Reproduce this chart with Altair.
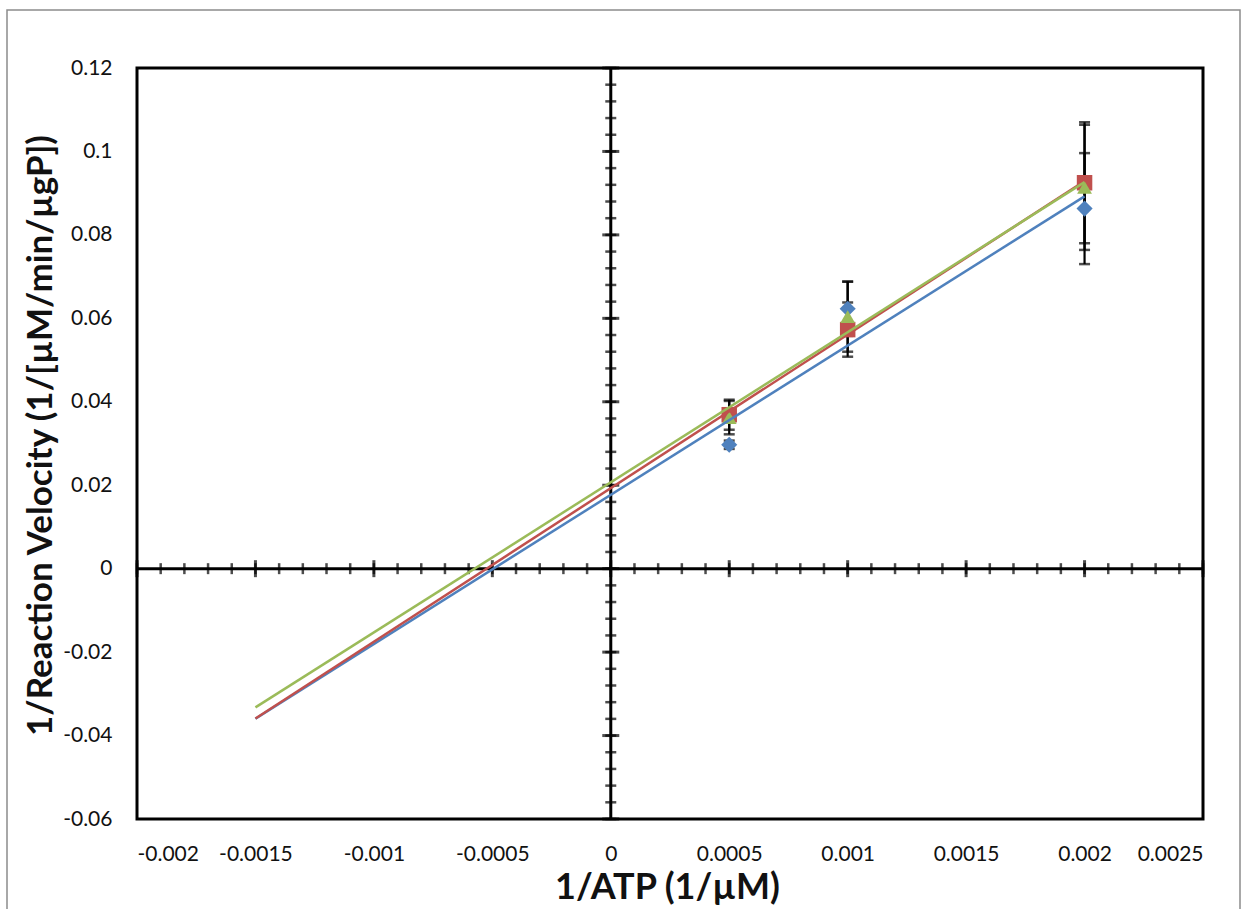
import altair as alt
import pandas as pd

# ---- data ----
inv_atp = [0.0005, 0.001, 0.002]
series_names = ["Series A", "Series B", "Series C"]
blue_y = [0.0297, 0.0623, 0.0863]
blue_err = [0.0010, 0.0065, 0.0133]
red_y = [0.0369, 0.0573, 0.0925]
red_err = [0.0036, 0.0065, 0.0145]
green_y = [0.0362, 0.0604, 0.0914]
green_err = [0.0040, 0.0084, 0.0150]
colors = ["#4F81BD", "#C0504D", "#9BBB59"]
shapes = ["diamond", "square", "triangle-up"]
marker_sizes = [260, 220, 240]

x_labels = [-0.002, -0.0015, -0.001, -0.0005, 0, 0.0005, 0.001, 0.0015, 0.002, 0.0025]
y_labels = [-0.06, -0.04, -0.02, 0, 0.02, 0.04, 0.06, 0.08, 0.1, 0.12]
trend_extent = [-0.0015, 0.002]

rows = []
for name, ys, es in zip(series_names, [blue_y, red_y, green_y], [blue_err, red_err, green_err]):
    for x, y, e in zip(inv_atp, ys, es):
        rows.append({"x": x, "y": y, "lo": y - e, "hi": y + e, "series": name})
df = pd.DataFrame(rows)

# axis tick positions on the zero-crossing axes
x_minor = pd.DataFrame({"t": [round(-0.002 + i * 0.0001, 6) for i in range(46)]})
x_major = pd.DataFrame({"t": x_labels})
y_minor = pd.DataFrame({"t": [round(-0.06 + i * 0.004, 6) for i in range(46)]})
y_major = pd.DataFrame({"t": y_labels})

W, H = 1066, 751
FONT = "Lato"

xs = alt.Scale(domain=[-0.002, 0.0025], nice=False, zero=False)
ys_ = alt.Scale(domain=[-0.06, 0.12], nice=False, zero=False)
cs = alt.Scale(domain=series_names, range=colors)
ss = alt.Scale(domain=series_names, range=shapes)
zs = alt.Scale(domain=series_names, range=marker_sizes)

x_axis = alt.Axis(
    values=x_labels, labelExpr="'' + datum.value", grid=False, ticks=False, tickSize=0,
    domain=False, labelPadding=24, labelFontSize=21, labelFont=FONT, labelColor="#111",
    title="1/ATP (1/µM)", titleFontSize=36, titleFont=FONT, titleFontWeight="bold",
    titleColor="#111", titleX=530, titleY=68, titleBaseline="middle",
)
y_axis = alt.Axis(
    values=y_labels, labelExpr="'' + datum.value", grid=False, ticks=False, tickSize=0,
    domain=False, labelPadding=25, labelFontSize=21, labelFont=FONT, labelColor="#111",
    title="1/Reaction Velocity (1/[µM/min/µgP])", titleFontSize=35, titleFont=FONT,
    titleFontWeight="bold", titleColor="#111", titleX=-97, titleY=367,
    titleBaseline="middle", titleAngle=-90,
)


def X(field):
    return alt.X(field, scale=xs, axis=x_axis)


def Y(field):
    return alt.Y(field, scale=ys_, axis=y_axis)


base = alt.Chart(df)
one = pd.DataFrame({"a": [0.0]})

# outer chart-area border (decoration)
border = alt.Chart(one).mark_rect(
    fill=None, stroke="#8c8c8c", strokeWidth=1.5
).encode(
    x=alt.value(-130), x2=alt.value(1103), y=alt.value(-58), y2=alt.value(870)
)

zero_v = alt.Chart(one).mark_rule(color="black", strokeWidth=3).encode(x=X("a:Q"))
zero_h = alt.Chart(one).mark_rule(color="black", strokeWidth=3).encode(y=Y("a:Q"))

xt_minor = alt.Chart(x_minor).mark_tick(orient="vertical", size=11, thickness=2.5, color="black").encode(
    x=X("t:Q"), y=alt.datum(0)
)
xt_major = alt.Chart(x_major).mark_tick(orient="vertical", size=17, thickness=3, color="black").encode(
    x=X("t:Q"), y=alt.datum(0)
)
yt_minor = alt.Chart(y_minor).mark_tick(orient="horizontal", size=11, thickness=2.5, color="black").encode(
    y=Y("t:Q"), x=alt.datum(0)
)
yt_major = alt.Chart(y_major).mark_tick(orient="horizontal", size=17, thickness=3, color="black").encode(
    y=Y("t:Q"), x=alt.datum(0)
)

err_rule = base.mark_rule(color="black", strokeWidth=2.2).encode(
    x=X("x:Q"), y=Y("lo:Q"), y2="hi:Q",
)
cap_lo = base.mark_tick(orient="horizontal", size=11, thickness=2.5, color="black").encode(
    x=X("x:Q"), y=Y("lo:Q")
)
cap_hi = base.mark_tick(orient="horizontal", size=11, thickness=2.5, color="black").encode(
    x=X("x:Q"), y=Y("hi:Q")
)

trend = base.transform_regression(
    "x", "y", groupby=["series"], extent=trend_extent
).mark_line(strokeWidth=2.5).encode(
    x=X("x:Q"), y=Y("y:Q"),
    color=alt.Color("series:N", scale=cs, legend=None),
)

points = base.mark_point(filled=True, opacity=1).encode(
    x=X("x:Q"), y=Y("y:Q"),
    color=alt.Color("series:N", scale=cs, legend=None),
    shape=alt.Shape("series:N", scale=ss, legend=None),
    size=alt.Size("series:N", scale=zs, legend=None),
)

chart = alt.layer(
    border, zero_v, zero_h, xt_minor, xt_major, yt_minor, yt_major,
    err_rule, cap_lo, cap_hi, points, trend,
).properties(
    width=W, height=H,
    autosize=alt.AutoSizeParams(type="none"),
    padding={"left": 137, "top": 68, "right": 41, "bottom": 90},
    background="white",
).configure_view(
    stroke="black", strokeWidth=3
)

chart.save("out.html", embed_options={"renderer": "svg", "actions": False})
